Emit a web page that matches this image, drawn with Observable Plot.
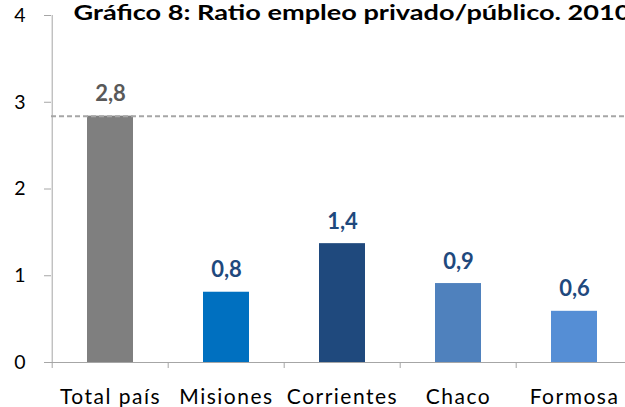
<!DOCTYPE html>
<html>
<head>
<meta charset="utf-8">
<script src="https://cdn.jsdelivr.net/npm/d3@7"></script>
<script src="https://cdn.jsdelivr.net/npm/@observablehq/plot@0.6"></script>
<style>
  html, body { margin: 0; padding: 0; background: #fff; overflow: hidden; }
  #chart svg { display: block; max-width: none !important; font-family: Lato, sans-serif; }
  #chart g[aria-label="x-axis tick label"] text { letter-spacing: 1.5px; }
</style>
</head>
<body>
<div id="chart"></div>
<script>
const title = "Gráfico 8: Ratio empleo privado/público. 2010";
const categories = ["Total país", "Misiones", "Corrientes", "Chaco", "Formosa"];
const values = [2.84, 0.81, 1.37, 0.91, 0.59];
const barColors = ["#7F7F7F", "#0070C0", "#1F497D", "#4F81BD", "#558ED5"];
const labelColors = ["#595959", "#1F497D", "#1F497D", "#1F497D", "#1F497D"];
const yTicks = [0, 1, 2, 3, 4];
const referenceValue = 2.84;

const data = categories.map((c, i) => ({
  cat: c, value: values[i], fill: barColors[i], labelFill: labelColors[i]
}));

const W = 635, H = 407, ML = 51, MR = 1, MT = 15, MB = 45;
const bw = (W - ML - MR) / categories.length;
const axisGray = "#A6A6A6";
const titleLength = 557;

const chart = Plot.plot({
  width: W, height: H,
  marginLeft: ML, marginRight: MR, marginTop: MT, marginBottom: MB,
  style: { fontFamily: "Lato, sans-serif", overflow: "visible", maxWidth: "none" },
  x: { domain: categories, paddingInner: 0.6, paddingOuter: 0.3, align: 0.5, label: null },
  y: { domain: [0, 4], label: null },
  color: { type: "identity" },
  marks: [
    Plot.barY(data, { x: "cat", y: "value", fill: "fill" }),
    Plot.ruleY([referenceValue], { stroke: axisGray, strokeWidth: 2, strokeDasharray: "5,3" }),
    Plot.ruleX([categories[0]], { dx: -bw / 2, stroke: axisGray, strokeWidth: 1 }),
    Plot.ruleY([0], { stroke: axisGray, strokeWidth: 1 }),
    Plot.axisY({ ticks: yTicks, tickSize: 7, tickPadding: 19, stroke: axisGray, fontSize: 19.5, fill: "#000", label: null, tickFormat: d => String(d) }),
    Plot.axisX({ tickSize: 6, text: null, dx: -bw / 2, stroke: axisGray, label: null }),
    Plot.axisX({ tickSize: 0, tickPadding: 27, fontSize: 21, fill: "#000", label: null }),
    Plot.text(data, { x: "cat", y: "value", text: d => d.value.toFixed(1).replace(".", ","), dy: -22, fill: "labelFill", fontSize: 22, fontWeight: "bold" }),
    Plot.text([title], { frameAnchor: "top-left", dx: 22, dy: -10, lineAnchor: "top", textAnchor: "start", fontSize: 20, fontWeight: "bold", fill: "#000" })
  ]
});
document.getElementById("chart").appendChild(chart);
d3.select(chart).selectAll("text")
  .filter(function () { return this.textContent === title; })
  .attr("textLength", titleLength)
  .attr("lengthAdjust", "spacingAndGlyphs");
</script>
</body>
</html>
